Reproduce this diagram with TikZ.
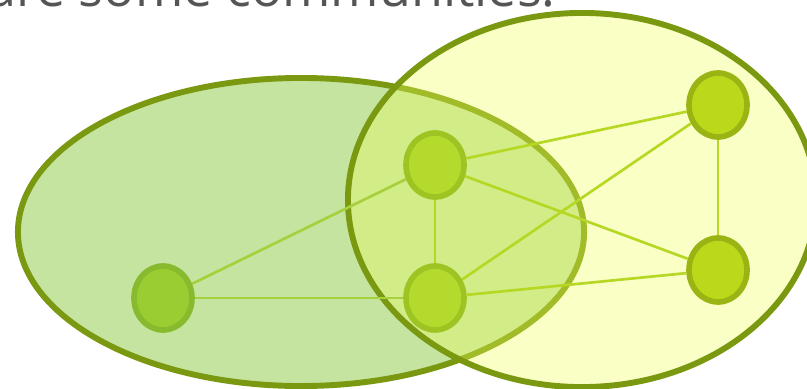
\documentclass[tikz,border=0pt]{standalone}
\usepackage{fontspec}
\setmainfont{Open Sans}
\usetikzlibrary{shapes.geometric}
\definecolor{rim}{RGB}{122,152,16}
\definecolor{leftfill}{RGB}{196,228,160}
\definecolor{rightfill}{RGB}{238,255,90}
\definecolor{textgray}{RGB}{85,85,85}
\definecolor{edgegreen}{RGB}{182,216,36}
\definecolor{edgeleft}{RGB}{166,208,60}
\definecolor{nodeleft}{RGB}{154,205,50}
\definecolor{nodeleftrim}{RGB}{136,186,46}
\definecolor{nodemid}{RGB}{180,218,46}
\definecolor{nodemidrim}{RGB}{158,196,36}
\definecolor{noderight}{RGB}{188,216,26}
\definecolor{noderightrim}{RGB}{154,180,20}

\begin{document}
\begin{tikzpicture}[x=0.025cm, y=-0.025cm,
    vertex/.style={ellipse, minimum width=1.45cm, minimum height=1.6cm, inner sep=0pt, line width=4pt},
    link/.style={line width=1.9pt, edgegreen}]
    \useasboundingbox (0,0) rectangle (807,388);
    \clip (0,0) rectangle (807,388);

    % heading, only its lower part is inside the frame
    \node[anchor=base east, text=textgray, inner sep=0pt,
          font=\fontsize{37}{40}\selectfont] (title) at (556,6) {share some communities:};

    % the two communities
    \draw[line width=4.2pt, rim, fill=leftfill] (301,232) ellipse [x radius=7.075cm, y radius=3.85cm];
    \fill[rightfill, fill opacity=0.35] (582,200) ellipse [x radius=5.85cm, y radius=4.675cm];
    \draw[line width=4.2pt, rim] (582,200) ellipse [x radius=5.85cm, y radius=4.675cm];

    % vertices
    \node[vertex, draw=nodeleftrim, fill=nodeleft] (a) at (163,298) {};
    \node[vertex, draw=nodemidrim, fill=nodemid] (b) at (435,165) {};
    \node[vertex, draw=nodemidrim, fill=nodemid] (c) at (435,298) {};
    \node[vertex, draw=noderightrim, fill=noderight] (d) at (718,105) {};
    \node[vertex, draw=noderightrim, fill=noderight] (e) at (718,270) {};

    % edges
    \draw[link, edgeleft] (a) -- (b);
    \draw[link, edgeleft] (a) -- (c);
    \draw[link] (b) -- (c);
    \draw[link] (b) -- (d);
    \draw[link] (b) -- (e);
    \draw[link] (c) -- (d);
    \draw[link] (c) -- (e);
    \draw[link] (d) -- (e);

\end{tikzpicture}
\end{document}
